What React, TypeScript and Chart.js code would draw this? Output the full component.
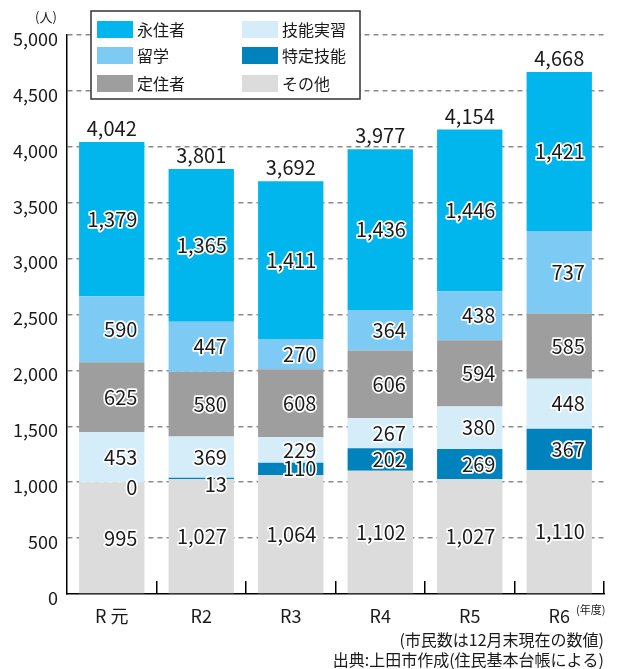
import React, { useEffect, useRef } from "react";
import { Chart, registerables } from "chart.js";

Chart.register(...registerables);

const categories = ["R 元", "R2", "R3", "R4", "R5", "R6"];
const sonota = [995, 1027, 1064, 1102, 1027, 1110];
const tokutei = [0, 13, 110, 202, 269, 367];
const ginou = [453, 369, 229, 267, 380, 448];
const teijuu = [625, 580, 608, 606, 594, 585];
const ryugaku = [590, 447, 270, 364, 438, 737];
const eijuu = [1379, 1365, 1411, 1436, 1446, 1421];
const totals = [4042, 3801, 3692, 3977, 4154, 4668];

const FONT = "'Noto Sans CJK JP', 'Noto Sans', sans-serif";
const TXT = "#1a1a1a";

const series = [
  { label: "その他", data: sonota, color: "#dcdcdc" },
  { label: "特定技能", data: tokutei, color: "#0082bc" },
  { label: "技能実習", data: ginou, color: "#d5ecf9" },
  { label: "定住者", data: teijuu, color: "#9e9e9e" },
  { label: "留学", data: ryugaku, color: "#7dcbf4" },
  { label: "永住者", data: eijuu, color: "#00b6ed" },
];

const legendCols = [
  ["永住者", "留学", "定住者"],
  ["技能実習", "特定技能", "その他"],
];

const fmt = (v: number) => v.toLocaleString("en-US");

const overlayPlugin = {
  id: "overlay",
  afterDatasetsDraw(chart: any) {
    const ctx = chart.ctx;
    ctx.save();
    ctx.lineJoin = "round";
    chart.data.datasets.forEach((ds: any, di: number) => {
      const meta = chart.getDatasetMeta(di);
      meta.data.forEach((bar: any, i: number) => {
        const v = ds.data[i];
        const h = Math.abs(bar.base - bar.y);
        const x = bar.x + bar.width / 2 - 7;
        let y = (bar.y + bar.base) / 2;
        if (h < 10) y = bar.base + 5;
        ctx.font = `20px ${FONT}`;
        ctx.textAlign = "right";
        ctx.textBaseline = "middle";
        ctx.strokeStyle = "#ffffff";
        ctx.lineWidth = 3.5;
        ctx.strokeText(fmt(v), x, y);
        ctx.fillStyle = TXT;
        ctx.fillText(fmt(v), x, y);
      });
    });
    const topMeta = chart.getDatasetMeta(chart.data.datasets.length - 1);
    topMeta.data.forEach((bar: any, i: number) => {
      ctx.font = `20px ${FONT}`;
      ctx.textAlign = "center";
      ctx.textBaseline = "alphabetic";
      ctx.fillStyle = TXT;
      ctx.fillText(fmt(totals[i]), bar.x, bar.y - 6);
    });
    ctx.restore();
  },
  afterDraw(chart: any) {
    const ctx = chart.ctx;
    const area = chart.chartArea;
    ctx.save();
    const n = categories.length;
    const w = (area.right - area.left) / n;
    ctx.strokeStyle = "#000";
    ctx.lineWidth = 1.5;
    for (let i = 1; i <= n; i++) {
      const x = Math.round(area.left + i * w) - 0.25;
      ctx.beginPath();
      ctx.moveTo(x, area.bottom);
      ctx.lineTo(x, area.bottom - 13);
      ctx.stroke();
    }
    const lx = 91, ly = 11, lw = 269, lh = 88;
    ctx.fillStyle = "#fff";
    ctx.fillRect(lx, ly, lw, lh);
    ctx.strokeStyle = "#333";
    ctx.lineWidth = 1.5;
    ctx.strokeRect(lx, ly, lw, lh);
    const colX = [97, 242];
    const rowY = [21, 47, 75];
    legendCols.forEach((col, ci) => {
      col.forEach((name, ri) => {
        const s = series.find((q) => q.label === name)!;
        ctx.fillStyle = s.color;
        ctx.fillRect(colX[ci], rowY[ri], 36, 17);
        ctx.fillStyle = TXT;
        ctx.font = `16px ${FONT}`;
        ctx.textAlign = "left";
        ctx.textBaseline = "middle";
        ctx.fillText(name, colX[ci] + 40, rowY[ri] + 9);
      });
    });
    ctx.font = `13px ${FONT}`;
    ctx.textAlign = "left";
    ctx.textBaseline = "middle";
    ctx.fillStyle = TXT;
    ctx.fillText("(人)", 35, 17);
    ctx.font = `11px ${FONT}`;
    ctx.fillText("(年度)", 576, 610);
    ctx.font = `16px ${FONT}`;
    ctx.textAlign = "right";
    ctx.fillText("(市民数は12月末現在の数値)", 604, 640);
    ctx.fillText("出典:上田市作成(住民基本台帳による)", 604, 660);
    ctx.restore();
  },
};

export default function App() {
  const ref = useRef<HTMLCanvasElement>(null);
  useEffect(() => {
    document.body.style.margin = "0";
    const chart = new Chart(ref.current!, {
      type: "bar",
      data: {
        labels: categories,
        datasets: series.map((s) => ({
          label: s.label,
          data: s.data,
          backgroundColor: s.color,
          borderWidth: 0,
          categoryPercentage: 1,
          barPercentage: 0.73,
        })),
      },
      options: {
        animation: false,
        responsive: false,
        layout: { padding: { left: 0, right: 14, top: 35, bottom: 0 } },
        plugins: { legend: { display: false }, tooltip: { enabled: false } },
        scales: {
          x: {
            stacked: true,
            grid: { display: false },
            border: { display: true, color: "#000", width: 1.5 },
            ticks: { color: TXT, font: { family: FONT, size: 18 }, padding: 3 },
            afterFit: (s: any) => {
              s.height = 75;
            },
          },
          y: {
            stacked: true,
            min: 0,
            max: 5000,
            ticks: {
              stepSize: 500,
              color: TXT,
              font: { family: FONT, size: 18 },
              padding: 9,
              labelOffset: 4,
              callback: (v: any) => fmt(Number(v)),
            },
            grid: {
              color: (c: any) => (c.tick && c.tick.value === 0 ? "rgba(0,0,0,0)" : "#8a8a8a"),
              lineWidth: 1.5,
              drawTicks: false,
            },
            border: { display: true, color: "#000", width: 1.5, dash: [5, 4] as any },
            afterFit: (s: any) => {
              s.width = 67;
            },
          },
        },
      } as any,
      plugins: [overlayPlugin],
    });
    return () => chart.destroy();
  }, []);
  return <canvas ref={ref} width={618} height={669} style={{ display: "block" }} />;
}
